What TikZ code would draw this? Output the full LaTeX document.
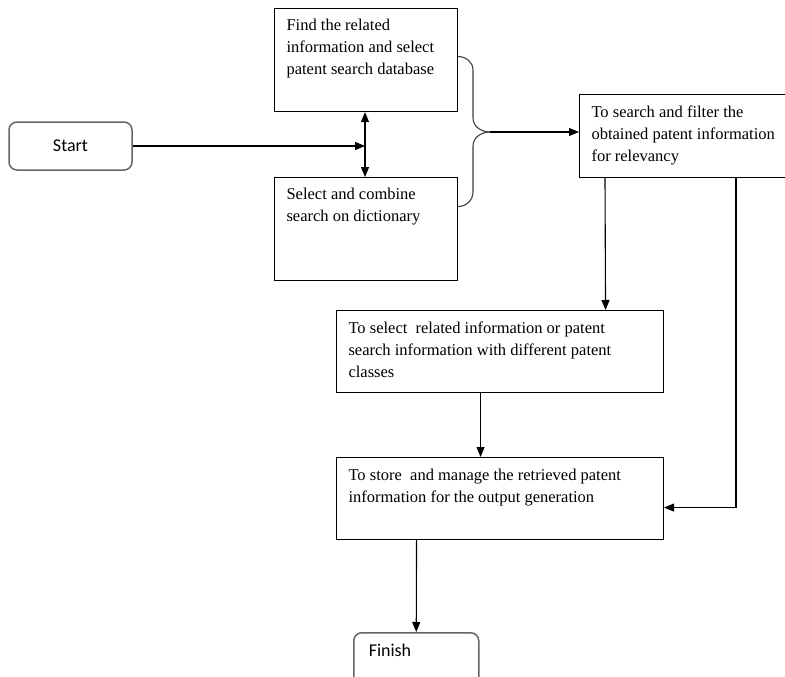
\documentclass[tikz,border=0pt]{standalone}
\usepackage{fontspec}
\setmainfont{Liberation Serif}
\newfontfamily\calfont{Carlito}
\usetikzlibrary{arrows.meta}

\begin{document}
\begin{tikzpicture}[x=1pt,y=-1pt,
	pbox/.style={draw, line width=1.1pt, anchor=north west, inner xsep=12pt, inner ysep=11pt, font=\fontsize{16.5}{22}\selectfont},
	endbox/.style={draw=black!60, line width=1.5pt, rounded corners=8pt, inner sep=0pt, font=\calfont\fontsize{18}{22}\selectfont},
	arr/.style={line width=1.1pt, -{Triangle[length=10pt,width=8pt]}},
	brc/.style={line width=1.1pt, draw=black!75}]
			\clip (0,0) rectangle (785,677);
			\fill[white] (0,0) rectangle (785,677);
			\node[endbox, minimum width=123pt, minimum height=48pt](start) at (70.5,146){Start};
			\node[pbox](find) at (274,8){\parbox[c][81pt][t]{159pt}{\raggedright Find the related\\ information and select\\ patent search database}};
			\node[pbox](sel) at (274,177){\parbox[c][81pt][t]{159pt}{\raggedright Select and combine\\ search on dictionary}};
			\node[pbox](srch) at (579,94){\parbox[c][61pt][t]{191pt}{\raggedright To search and filter the\\ obtained patent information\\ for relevancy}};
			\node[pbox](flt) at (336,310){\parbox[c][60pt][t]{303pt}{\raggedright To select\ \ related information or patent\\ search information with different patent\\ classes}};
			\node[pbox](store) at (336,457){\parbox[c][60pt][t]{303pt}{\raggedright To store\ \ and manage the retrieved patent\\ information for the output generation}};
			\node[endbox, anchor=north west, inner xsep=15pt, inner ysep=11pt](finish) at (353,632){\parbox[c][40pt][t]{95pt}{Finish}};
			\coordinate (mid) at (365,146);
			\coordinate (tip) at (490,132);
			\draw[arr] (start.east) -- (mid);
			\draw[arr, {Triangle[length=10pt,width=8pt]}-{Triangle[length=10pt,width=8pt]}] (find.south -| mid) -- (sel.north -| mid);
			\draw[brc] ([yshift=3.5pt]find.east) to[out=0,in=90] (473,70) -- (473,118) to[out=-90,in=180] (tip);
			\draw[brc] (tip) to[out=180,in=90] (473,146) -- (473,192) to[out=-90,in=0] ([yshift=22.5pt]sel.east);
			\draw[arr] (tip) -- (tip -| srch.west);
			\draw[arr] ([xshift=26pt]srch.south west) -- ([xshift=105.5pt]flt.north);
			\draw[arr] ([xshift=-19.5pt]flt.south) -- ([xshift=-19.5pt]store.north);
			\draw[arr] ([xshift=157pt]srch.south west) |- ([yshift=-9pt]store.east);
			\draw[arr] ([xshift=-83.5pt]store.south) -- (finish.north);
\end{tikzpicture}
\end{document}
